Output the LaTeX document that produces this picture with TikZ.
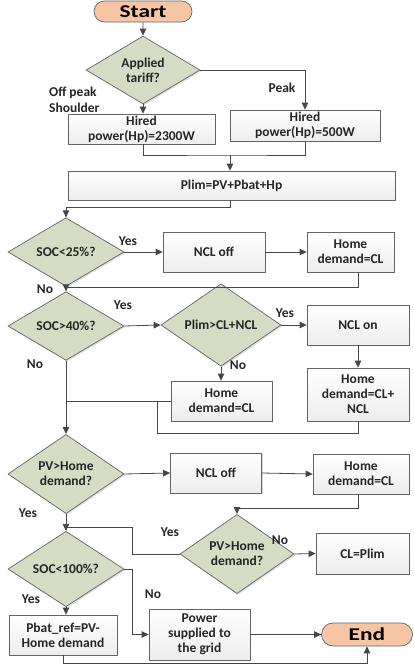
\documentclass[tikz,border=0pt]{standalone}
\usepackage{fontspec}
\setmainfont{Carlito}
\newfontfamily\termfont{Carlito}[FakeStretch=1.3]
\usetikzlibrary{shapes.geometric,shapes.misc,arrows.meta,shadows}
\definecolor{dgreen}{RGB}{214,219,196}
\definecolor{peach}{RGB}{246,198,164}
\definecolor{lnc}{RGB}{70,70,70}
\definecolor{bdc}{RGB}{100,100,100}
\begin{document}
\begin{tikzpicture}[x=1pt,y=-1pt,
  txt/.style={font=\bfseries\fontsize{13.5}{15}\selectfont, text=black!85},
  boxnode/.style={txt, draw=bdc, line width=0.7pt, rectangle, align=center, inner sep=1pt,
    top color=white, bottom color=gray!14,
    drop shadow={shadow xshift=1.3pt, shadow yshift=-1.3pt, opacity=0.3, fill=gray}},
  decnode/.style={txt, draw=bdc, line width=0.7pt, diamond, align=center, inner sep=0pt,
    fill=dgreen, drop shadow={shadow xshift=1.3pt, shadow yshift=-1.3pt, opacity=0.25, fill=gray}},
  termnode/.style={draw=bdc, line width=0.7pt, rounded rectangle, fill=peach, inner sep=0pt,
    font=\termfont\bfseries\fontsize{18}{18}\selectfont},
  lbl/.style={txt, inner sep=0pt},
  conn/.style={draw=lnc, line width=0.8pt},
  arr/.style={conn, -{Triangle[length=7pt,width=6.5pt]}}
]
\useasboundingbox (0,0) rectangle (414,667);

% nodes
\node[termnode, minimum width=98pt, minimum height=21pt] (start) at (143,11.5) {Start};
\node[decnode, minimum width=114pt, minimum height=54pt] (tariff) at (143,70) {Applied\\tariff?};
\node[boxnode, minimum width=147pt, minimum height=30pt] (hp1) at (141.5,129) {Hired\\power(Hp)=2300W};
\node[boxnode, minimum width=150pt, minimum height=31pt] (hp2) at (305,125.5) {Hired\\power(Hp)=500W};
\node[boxnode, minimum width=327pt, minimum height=29pt] (plim) at (231.5,185.5) {Plim=PV+Pbat+Hp};

\node[decnode, minimum width=116pt, minimum height=58pt] (soc25) at (66,252) {SOC<25\%?};
\node[boxnode, minimum width=102pt, minimum height=40pt] (ncloff1) at (214,252) {NCL off};
\node[boxnode, minimum width=87pt, minimum height=40pt] (hd1) at (350.5,252) {Home\\demand=CL};

\node[decnode, minimum width=116pt, minimum height=58pt] (soc40) at (66,326) {SOC>40\%?};
\node[decnode, minimum width=120pt, minimum height=58pt] (plimd) at (221,325) {Plim>CL+NCL};
\node[boxnode, minimum width=102pt, minimum height=40pt] (nclon) at (358,325) {NCL on};
\node[boxnode, minimum width=102pt, minimum height=53pt] (hd3) at (358,394.5) {Home\\demand=CL+\\NCL};
\node[boxnode, minimum width=101pt, minimum height=40pt] (hd2) at (221.5,401) {Home\\demand=CL};

\node[decnode, minimum width=116pt, minimum height=58pt] (pvd1) at (66,474) {PV>Home\\demand?};
\node[boxnode, minimum width=91pt, minimum height=40pt] (ncloff2) at (216,473) {NCL off};
\node[boxnode, minimum width=96pt, minimum height=40pt] (hd4) at (361,474) {Home\\demand=CL};

\node[decnode, minimum width=114pt, minimum height=58pt] (pvd2) at (237,554) {PV>Home\\demand?};
\node[boxnode, minimum width=93pt, minimum height=41pt] (clplim) at (362.5,553.5) {CL=Plim};

\node[decnode, minimum width=116pt, minimum height=58pt] (soc100) at (66,569) {SOC<100\%?};
\node[boxnode, minimum width=108pt, minimum height=40pt] (pbat) at (63,635) {Pbat\_ref=PV-\\Home demand};
\node[boxnode, minimum width=101pt, minimum height=51pt] (power) at (199.5,634.5) {Power\\supplied to\\the grid};
\node[termnode, minimum width=91pt, minimum height=23pt] (end) at (367,634.5) {End};

% junction coordinates
\coordinate (m1) at (230,155);
\coordinate (m2) at (66,207);
\coordinate (m3) at (66,287);
\coordinate (m4) at (157,433);
\coordinate (m5) at (157,401);
\coordinate (m6) at (237,508);
\coordinate (m7) at (132,527);
\coordinate (m8) at (66,527);
\coordinate (m9) at (132,569);

% connectors
\draw[arr] (start) -- (tariff);
\draw[arr] (tariff.south) -- (tariff.south |- hp1.north);
\draw[arr] (tariff.east) -| (hp2.north);
\draw[conn] (tariff.south |- hp1.south) |- (m1) -| (hp2.south);
\draw[arr] (m1) -- (m1 |- plim.north);
\draw[arr] (m1 |- plim.south) |- (m2) -- (soc25.north);

\draw[arr] (soc25.east) -- (ncloff1.west);
\draw[arr] (ncloff1.east) -- (hd1.west);
\draw[conn] (hd1.south -| nclon.south) |- (m3);
\draw[arr] (soc25.south) -- (soc40.north);

\draw[arr] (soc40.east) -- (plimd.west);
\draw[arr] (plimd.east) -- (nclon.west);
\draw[arr] (nclon.south) -- (hd3.north);
\draw[arr] (plimd.south) -- (plimd.south |- hd2.north);
\draw[conn] (hd2.west) -- (soc40.south |- hd2.west);
\draw[conn] (hd3.south) |- (m4) -- (m5);
\draw[arr] (soc40.south) -- (pvd1.north);

\draw[arr] (pvd1.east) -- (ncloff2.west);
\draw[arr] (ncloff2.east) -- (hd4.west);
\draw[arr] (hd4.south -| nclon.south) |- (m6) -- (pvd2.north);
\draw[arr] (pvd2.east) -- (clplim.west);
\draw[conn] (pvd2.west) -| (m7) -- (m8);
\draw[arr] (pvd1.south) -- (soc100.north);

\draw[arr] (soc100.east) -- (m9) |- (power.west);
\draw[arr] (soc100.south) -- (soc100.south |- pbat.north);
\draw[arr] (power.east) -- (end.west);
\draw[arr] (pbat.south) -- ++(0,8) -| (end.south);

% labels
\node[lbl, anchor=west, align=left, font=\bfseries\fontsize{13.5}{16}\selectfont] at (49,100) {Off peak\\Shoulder};
\node[lbl] at (282,88) {Peak};
\node[lbl] at (128,241) {Yes};
\node[lbl] at (45,289) {No};
\node[lbl] at (123,305) {Yes};
\node[lbl] at (285,313) {Yes};
\node[lbl] at (238,365) {No};
\node[lbl] at (35,364) {No};
\node[lbl] at (28,513) {Yes};
\node[lbl] at (170,532) {Yes};
\node[lbl] at (280,540) {No};
\node[lbl] at (153,594) {No};
\node[lbl] at (31,599) {Yes};
\end{tikzpicture}
\end{document}
